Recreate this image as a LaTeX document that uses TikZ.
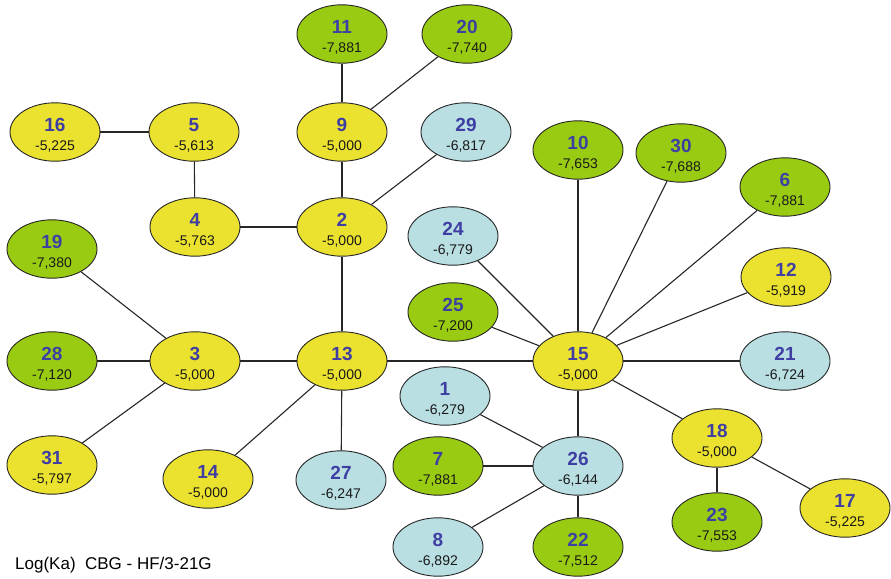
\documentclass[tikz,border=0pt]{standalone}
\usepackage{fontspec}
\setmainfont{Liberation Sans}
\usetikzlibrary{shapes.geometric}
\definecolor{cy}{HTML}{EBE12F}
\definecolor{cg}{HTML}{99CB12}
\definecolor{cb}{HTML}{B9DFE3}
\definecolor{cn}{HTML}{3F3FA3}
\newcommand{\mylab}[2]{{\fontsize{19}{19.5}\selectfont\bfseries\color{cn}\rule{0pt}{20pt}#1}\\{#2}}
\tikzset{
  blob/.style={ellipse,draw=black!85,line width=0.9pt,minimum width=90pt,minimum height=56pt,inner sep=0pt,align=center,text=black!90,font=\fontsize{14}{19.5}\selectfont},
  yel/.style={blob,fill=cy},
  grn/.style={blob,fill=cg},
  blu/.style={blob,fill=cb},
  edge/.style={draw=black!85,line width=1.1pt}
}
\begin{document}
\begin{tikzpicture}[x=1pt,y=-1pt]
\useasboundingbox (0,0) rectangle (891,578);
\node[yel] (n16) at (55,132) {\mylab{16}{-5,225}};
\node[yel] (n5) at (194,132) {\mylab{5}{-5,613}};
\node[yel] (n4) at (195,227) {\mylab{4}{-5,763}};
\node[yel] (n2) at (342,227) {\mylab{2}{-5,000}};
\node[yel] (n9) at (342,132) {\mylab{9}{-5,000}};
\node[grn] (n11) at (342,34) {\mylab{11}{-7,881}};
\node[grn] (n20) at (467,34) {\mylab{20}{-7,740}};
\node[blu] (n29) at (466,132) {\mylab{29}{-6,817}};
\node[grn] (n19) at (52,249) {\mylab{19}{-7,380}};
\node[grn] (n28) at (52,361) {\mylab{28}{-7,120}};
\node[yel] (n3) at (195,361) {\mylab{3}{-5,000}};
\node[yel] (n31) at (52,465) {\mylab{31}{-5,797}};
\node[yel] (n14) at (208,479) {\mylab{14}{-5,000}};
\node[yel] (n13) at (342,361) {\mylab{13}{-5,000}};
\node[blu] (n27) at (341,480) {\mylab{27}{-6,247}};
\node[blu] (n24) at (453,236) {\mylab{24}{-6,779}};
\node[grn] (n25) at (453,312) {\mylab{25}{-7,200}};
\node[grn] (n10) at (578,150) {\mylab{10}{-7,653}};
\node[grn] (n30) at (681,153) {\mylab{30}{-7,688}};
\node[grn] (n6) at (785,187) {\mylab{6}{-7,881}};
\node[yel] (n12) at (786,277) {\mylab{12}{-5,919}};
\node[yel] (n15) at (578,361) {\mylab{15}{-5,000}};
\node[blu] (n21) at (785,361) {\mylab{21}{-6,724}};
\node[blu] (n1) at (445,396) {\mylab{1}{-6,279}};
\node[grn] (n7) at (438,466) {\mylab{7}{-7,881}};
\node[blu] (n26) at (578,466) {\mylab{26}{-6,144}};
\node[blu] (n8) at (438,547) {\mylab{8}{-6,892}};
\node[grn] (n22) at (578,547) {\mylab{22}{-7,512}};
\node[yel] (n18) at (717,438) {\mylab{18}{-5,000}};
\node[grn] (n23) at (717,522) {\mylab{23}{-7,553}};
\node[yel] (n17) at (845,508) {\mylab{17}{-5,225}};
\node[anchor=west,inner sep=0pt,font=\fontsize{17}{17}\selectfont] (cap) at (15,565) {Log(Ka)\ \ CBG - HF/3-21G};
\foreach \a/\b in {16/5,5/4,4/2,2/9,9/11,9/20,2/29,2/13,13/3,3/19,3/28,3/31,13/14,13/27,13/15,15/24,15/25,15/10,15/30,15/6,15/12,15/21,15/18,15/26,18/23,18/17,26/1,26/7,26/8,26/22}
  \draw[edge] (n\a) -- (n\b);
\end{tikzpicture}
\end{document}
